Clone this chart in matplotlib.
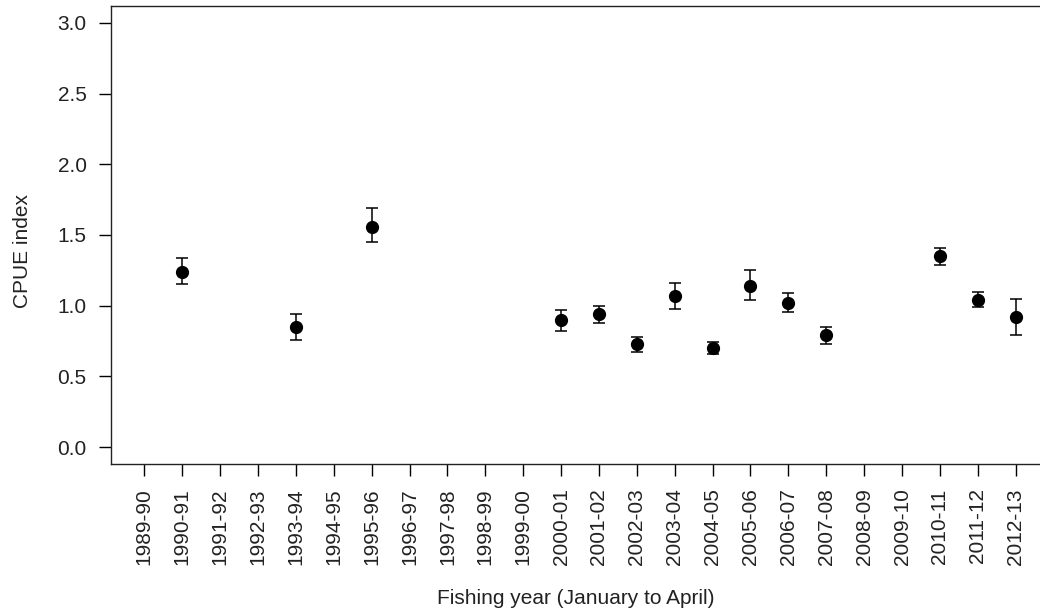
import numpy as np
import matplotlib.pyplot as plt

plt.rcParams['font.family'] = ['Liberation Sans', 'DejaVu Sans']

years = ['1989-90', '1990-91', '1991-92', '1992-93', '1993-94', '1994-95',
         '1995-96', '1996-97', '1997-98', '1998-99', '1999-00', '2000-01',
         '2001-02', '2002-03', '2003-04', '2004-05', '2005-06', '2006-07',
         '2007-08', '2008-09', '2009-10', '2010-11', '2011-12', '2012-13']

nan = np.nan
cpue = [nan, 1.24, nan, nan, 0.85, nan, 1.56, nan, nan, nan, nan, 0.90,
        0.94, 0.73, 1.07, 0.70, 1.14, 1.02, 0.79, nan, nan, 1.35, 1.04, 0.92]
upper = [nan, 1.34, nan, nan, 0.94, nan, 1.69, nan, nan, nan, nan, 0.97,
         1.00, 0.78, 1.16, 0.74, 1.25, 1.09, 0.85, nan, nan, 1.41, 1.10, 1.05]
lower = [nan, 1.15, nan, nan, 0.76, nan, 1.45, nan, nan, nan, nan, 0.82,
         0.88, 0.67, 0.98, 0.66, 1.04, 0.955, 0.73, nan, nan, 1.29, 0.99, 0.79]

x = np.arange(1, len(years) + 1)
cpue = np.array(cpue)
yerr = [cpue - np.array(lower), np.array(upper) - cpue]

fig = plt.figure(figsize=(10.4, 6.13), dpi=100)
ax = fig.add_axes([111 / 1040, 149 / 613, 938 / 1040, 458 / 613])

ax.errorbar(x, cpue, yerr=yerr, fmt='o', color='black', markersize=8.5,
            elinewidth=1.1, capsize=4, capthick=1.1)

ax.set_xlim(0.12, 24.88)
ax.set_ylim(-0.12, 3.12)
ax.set_xticks(x)
ax.set_xticklabels(years, rotation=90)
ax.set_yticks([0.0, 0.5, 1.0, 1.5, 2.0, 2.5, 3.0])
ax.set_yticklabels(['0.0', '0.5', '1.0', '1.5', '2.0', '2.5', '3.0'])
ax.tick_params(axis='both', direction='out', length=8.6, width=1.0,
               pad=9, labelsize=15, colors='black', labelcolor='#222222')

for s in ax.spines.values():
    s.set_linewidth(1.0)
    s.set_color('#222222')

ax.set_ylabel('CPUE index', fontsize=15, color='#222222')
ax.yaxis.set_label_coords(-0.084, 0.465)
ax.set_xlabel('Fishing year (January to April)', fontsize=15, color='#222222')
ax.xaxis.set_label_coords(0.495, -0.272)

fig.savefig('out.png', dpi=100)
